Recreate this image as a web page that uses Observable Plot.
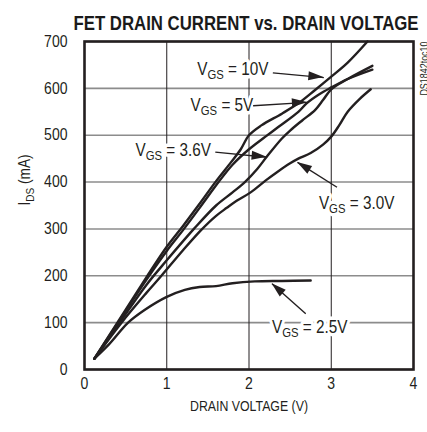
<!DOCTYPE html>
<html><head><meta charset="utf-8">
<script src="https://cdn.jsdelivr.net/npm/d3@7"></script>
<script src="https://cdn.jsdelivr.net/npm/@observablehq/plot@0.6"></script>
<style>
body{margin:0;background:#fff;}
</style></head><body><div id="chart"></div>
<script>
const FONT = '"Liberation Sans", Arial, sans-serif';
const NARROW = 0.85; // horizontal compression to mimic a narrow face

// ---- data ----
const vds10 = [0.12, 0.4, 0.75, 1.0, 1.2, 1.4, 1.6, 1.78, 1.9, 2.0, 2.15, 2.4, 2.6, 2.8, 3.0, 3.2, 3.44];
const ids10 = [23, 100, 196, 262, 307, 354, 402, 442, 470, 500, 521, 546, 568, 596, 625, 655, 700];
const vds5 = [0.12, 0.4, 0.75, 1.0, 1.2, 1.4, 1.63, 1.8, 2.0, 2.2, 2.36, 2.6, 2.7, 2.85, 3.0, 3.2, 3.5];
const ids5 = [23, 98, 191, 253, 298, 345, 400, 437, 470, 497, 518, 550, 568, 587, 602, 620, 640];
const vds36 = [0.12, 0.4, 0.75, 1.0, 1.33, 1.6, 1.8, 1.95, 2.1, 2.22, 2.4, 2.5, 2.65, 2.8, 2.9, 3.0, 3.2, 3.5];
const ids36 = [23, 93, 180, 233, 300, 350, 378, 400, 428, 455, 493, 510, 532, 553, 575, 598, 620, 648];
const vds30 = [0.12, 0.45, 0.75, 0.93, 1.2, 1.42, 1.6, 1.73, 1.85, 2.02, 2.2, 2.34, 2.5, 2.6, 2.75, 2.9, 3.0, 3.1, 3.2, 3.35, 3.48];
const ids30 = [23, 100, 163, 199, 255, 298, 328, 345, 360, 378, 403, 421, 440, 450, 462, 480, 497, 522, 550, 578, 598];
const vds25 = [0.12, 0.3, 0.53, 0.73, 1.0, 1.22, 1.4, 1.6, 1.8, 2.07, 2.4, 2.75];
const ids25 = [23, 54, 100, 127, 155, 170, 176, 178, 184, 188, 189, 190];

const xTicks = [0, 1, 2, 3, 4];
const yTicks = [0, 100, 200, 300, 400, 500, 600, 700];

const labelText = ["VGS = 10V", "VGS = 5V", "VGS = 3.6V", "VGS = 3.0V", "VGS = 2.5V"];
const labelX = [1.37, 1.29, 0.62, 2.85, 2.28];
const labelY = [641, 563, 468, 355, 90];

const arrowX1 = [2.29, 2.05, 1.59, 3.07, 2.69];
const arrowY1 = [633, 563, 464, 389, 119];
const arrowX2 = [2.91, 2.71, 2.22, 2.59, 2.28];
const arrowY2 = [623, 570, 453, 442, 183];

const titleText = "FET DRAIN CURRENT vs. DRAIN VOLTAGE";
const xLabel = "DRAIN VOLTAGE (V)";
const yLabel = "IDS (mA)";
const codeText = "DS1842toc10";

// ---- tables built from the arrays ----
const seriesList = [
  ["10V", vds10, ids10], ["5V", vds5, ids5], ["3.6V", vds36, ids36],
  ["3.0V", vds30, ids30], ["2.5V", vds25, ids25]
];
const curves = seriesList.flatMap(([s, vx, iy]) => vx.map((v, k) => ({s, v, i: iy[k]})));
const labels = labelText.map((t, k) => ({t, x: labelX[k], y: labelY[k]}));
const arrows = arrowX1.map((_, k) => ({x1: arrowX1[k], y1: arrowY1[k], x2: arrowX2[k], y2: arrowY2[k]}));

const INK = "#231f20";
const plot = Plot.plot({
  width: 427, height: 432,
  marginLeft: 84, marginRight: 14, marginTop: 41, marginBottom: 63,
  x: {domain: [0, 4]},
  y: {domain: [0, 700]},
  style: {fontFamily: FONT, fontSize: "16px", color: INK, background: "#fff"},
  marks: [
    Plot.gridY(yTicks, {stroke: "#8c8c8c", strokeOpacity: 1, strokeWidth: 1.6}),
    Plot.gridX(xTicks, {stroke: INK, strokeOpacity: 1, strokeWidth: 1}),
    Plot.axisX(xTicks, {tickSize: 0, tickPadding: 8, label: null, fontSize: 16.5, fill: INK}),
    Plot.axisY(yTicks, {tickSize: 0, tickPadding: 17, label: null, fontSize: 16.5, fill: INK}),
    Plot.text(labels, {x: "x", y: "y", text: "t", textAnchor: "start", fontSize: 18, fill: INK, stroke: "white", strokeWidth: 7}),
    Plot.line(curves, {x: "v", y: "i", z: "s", stroke: INK, strokeWidth: 2.4, curve: "catmull-rom"}),
    Plot.link(arrows, {x1: "x1", y1: "y1", x2: "x2", y2: "y2", stroke: INK, strokeWidth: 1.4}),
    Plot.frame({stroke: INK, strokeWidth: 2.6}),
    Plot.text([titleText], {frameAnchor: "top", dx: -3, dy: -26, fontSize: 21, fontWeight: "bold", fill: "#1a1a1a"}),
    Plot.text([xLabel], {frameAnchor: "bottom", dy: 41, fontSize: 14.5, fill: INK}),
    Plot.text([yLabel], {frameAnchor: "left", dx: -60, rotate: -90, fontSize: 16, fill: INK}),
    Plot.text([codeText], {frameAnchor: "top-right", dx: 7, rotate: -90, textAnchor: "end", fontSize: 10.5, fill: INK})
  ]
});

const svg = d3.select(plot);
svg.selectAll("text").each(function() {
  const el = d3.select(this);
  const t = this.textContent;
  if (t.startsWith("VGS")) {
    el.text(null);
    el.append("tspan").text("V");
    el.append("tspan").attr("font-size", "0.74em").attr("dy", 4).text("GS");
    el.append("tspan").attr("dy", -4).text(t.slice(3));
  } else if (t === yLabel) {
    el.text(null);
    el.append("tspan").text("I");
    el.append("tspan").attr("font-size", "0.74em").attr("dy", 4).text("DS");
    el.append("tspan").attr("dy", -4).text(t.slice(3));
  }
});
// filled arrowheads positioned with Plot's own scales
const sx = plot.scale("x"), sy = plot.scale("y");
const heads = svg.append("g").attr("fill", INK);
arrows.forEach(a => {
  const X1 = sx.apply(a.x1), Y1 = sy.apply(a.y1), X2 = sx.apply(a.x2), Y2 = sy.apply(a.y2);
  const dx = X2 - X1, dy = Y2 - Y1, L = Math.hypot(dx, dy);
  const ux = dx / L, uy = dy / L, len = 15, hw = 4.5;
  const bx = X2 - ux * len, by = Y2 - uy * len;
  heads.append("polygon").attr("points",
    `${X2},${Y2} ${bx - uy * hw},${by + ux * hw} ${bx + uy * hw},${by - ux * hw}`);
});
document.getElementById("chart").append(plot);
// narrow the text horizontally (title fitted to the reference width)
svg.selectAll("text").each(function() {
  const L = this.getComputedTextLength();
  const target = this.textContent === titleText ? 345 : L * NARROW;
  d3.select(this).attr("textLength", target).attr("lengthAdjust", "spacingAndGlyphs");
});
</script>
</body></html>
